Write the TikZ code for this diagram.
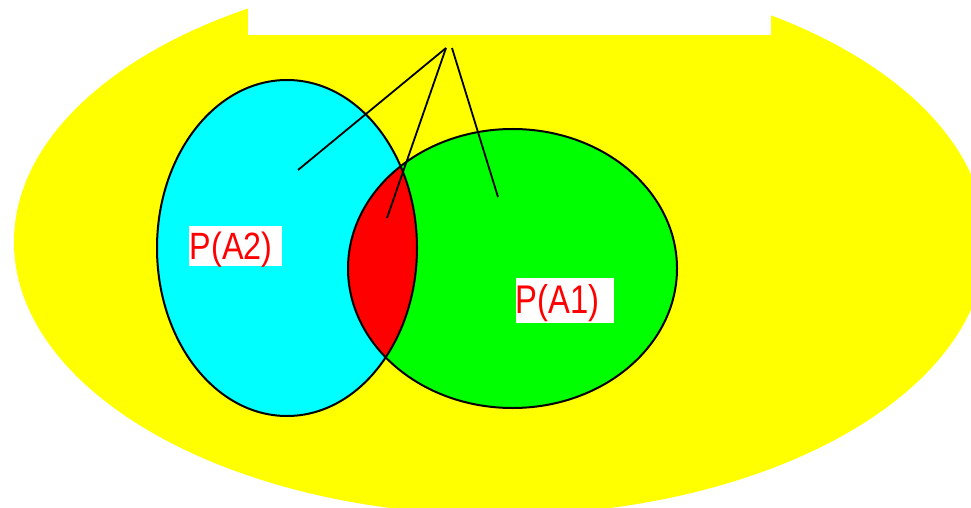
\documentclass[tikz,border=0pt]{standalone}
\usepackage{fontspec}
\setmainfont{Liberation Sans}
\definecolor{univ}{RGB}{255,255,0}
\definecolor{setA2}{RGB}{0,255,255}
\definecolor{setA1}{RGB}{0,255,0}
\definecolor{both}{RGB}{255,0,0}
\begin{document}
\begin{tikzpicture}[x=1pt,y=-1pt,
  border/.style={draw=black,line width=2pt},
  pointer/.style={draw=black,line width=1.8pt},
  labelbox/.style={fill=white,inner sep=0pt,anchor=north west},
  labeltext/.style={text=both,inner sep=0pt,anchor=base west}]
\useasboundingbox (0,0) rectangle (971,508);
\fill[white] (0,0) rectangle (971,508);
% universe
\fill[univ] (500,242) ellipse [x radius=486, y radius=273];
\fill[white] (248,0) rectangle (771,35);
% sets
\fill[setA2] (287,248) ellipse [x radius=130, y radius=168];
\fill[setA1] (512.5,268.5) ellipse [x radius=164.5, y radius=139.5];
\begin{scope}
  \clip (287,248) ellipse [x radius=130, y radius=168];
  \fill[both] (512.5,268.5) ellipse [x radius=164.5, y radius=139.5];
\end{scope}
\draw[border] (287,248) ellipse [x radius=130, y radius=168];
\draw[border] (512.5,268.5) ellipse [x radius=164.5, y radius=139.5];
% pointers
\coordinate (apexL) at (446,48);
\coordinate (apexR) at (452,48);
\coordinate (inA2) at (298,170);
\coordinate (inAB) at (387,218);
\coordinate (inA1) at (498,197);
\draw[pointer] (apexL) -- (inA2);
\draw[pointer] (apexL) -- (inAB);
\draw[pointer] (apexR) -- (inA1);
% labels
\node[labelbox,minimum width=93pt,minimum height=40pt] (boxA2) at (189,226) {};
\node[labeltext,font=\fontsize{38}{38}\selectfont] (labA2) at (189.5,259) {\scalebox{0.85}[1]{P(A2)}};
\node[labelbox,minimum width=98pt,minimum height=45pt] (boxA1) at (516,278) {};
\node[labeltext,font=\fontsize{40}{40}\selectfont] (labA1) at (515.5,313) {\scalebox{0.82}[1]{P(A1)}};
\end{tikzpicture}
\end{document}
